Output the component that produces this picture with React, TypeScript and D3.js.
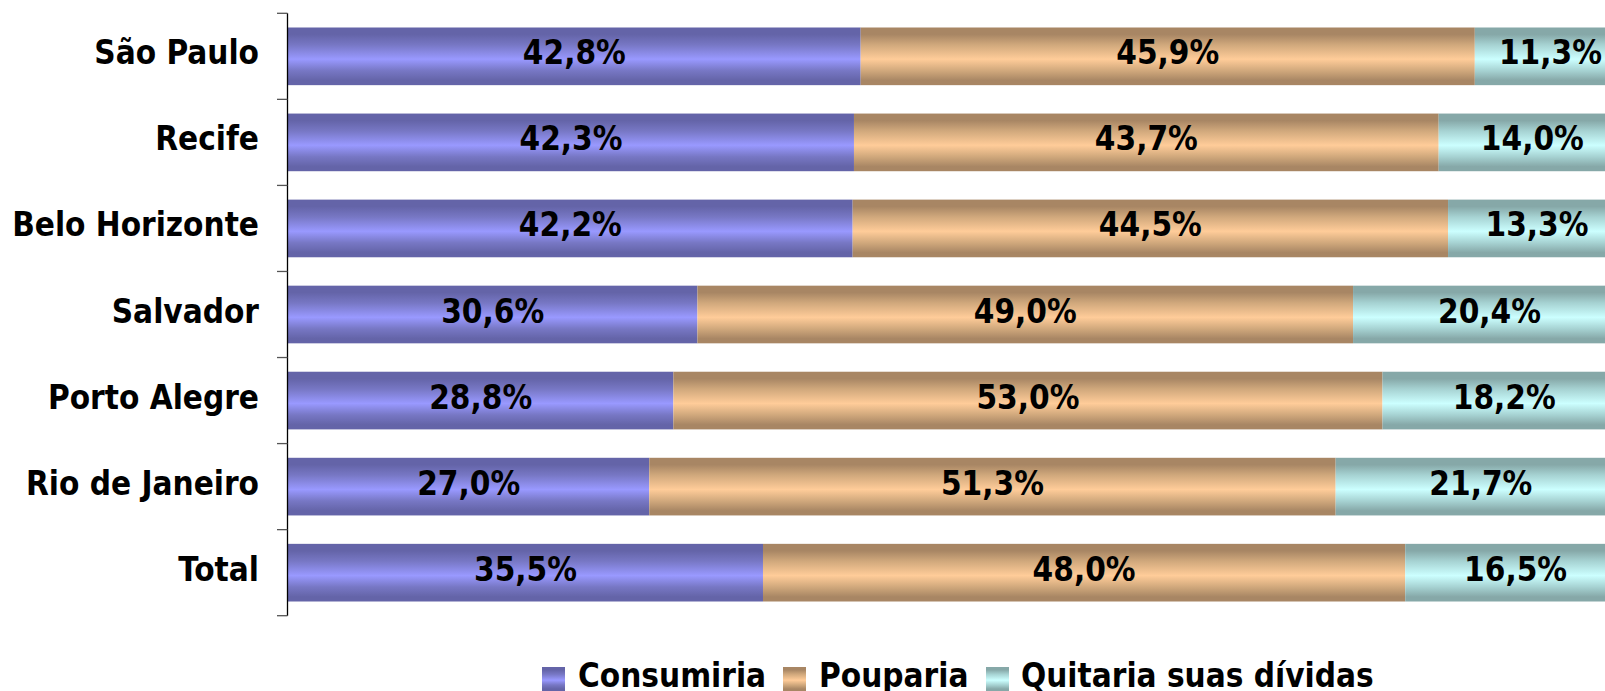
import React, { useEffect } from "react";
import * as d3 from "d3";

const categories = ["São Paulo", "Recife", "Belo Horizonte", "Salvador", "Porto Alegre", "Rio de Janeiro", "Total"];
const seriesNames = ["Consumiria", "Pouparia", "Quitaria suas dívidas"];
const consumiria = [42.8, 42.3, 42.2, 30.6, 28.8, 27.0, 35.5];
const pouparia = [45.9, 43.7, 44.5, 49.0, 53.0, 51.3, 48.0];
const quitaria = [11.3, 14.0, 13.3, 20.4, 18.2, 21.7, 16.5];
const seriesValues = [consumiria, pouparia, quitaria];

const gradients = [
  { id: "g0", dark: "#6464a8", mid: "#7777c4", light: "#9999ff" },
  { id: "g1", dark: "#a88664", mid: "#d0a87c", light: "#ffcc99" },
  { id: "g2", dark: "#86a8a8", mid: "#a6d2d2", light: "#ccffff" },
];

const W = 1605;
const H = 691;
const FONT = "'DejaVu Sans Condensed', 'DejaVu Sans', sans-serif";

export default function App() {
  useEffect(() => {
    document.body.style.margin = "0";
  }, []);

  const x = d3.scaleLinear().domain([0, 100]).range([288, 1626]);
  const y = d3.scaleBand<string>().domain(categories).range([13.3, 615.7]).paddingInner(0.33).paddingOuter(0.165);
  const yOuter = d3.scaleBand<string>().domain(categories).range([13.3, 615.7]);

  const segs: { cat: string; s: number; x0: number; x1: number; v: number }[] = [];
  categories.forEach((cat, i) => {
    let acc = 0;
    seriesValues.forEach((arr, s) => {
      const v = arr[i];
      segs.push({ cat, s, x0: acc, x1: acc + v, v });
      acc += v;
    });
  });

  const tickYs = categories.map((c) => yOuter(c) as number).concat([615.7]);
  const fmt = (v: number) => v.toFixed(1).replace(".", ",") + "%";

  const legendX = [542, 783, 986];
  const legendTextX = [578, 819, 1021];

  return (
    <svg width={W} height={H} style={{ display: "block", overflow: "hidden" }} fontFamily={FONT}>
      <defs>
        {gradients.map((g) => (
          <linearGradient key={g.id} id={g.id} x1="0" y1="0" x2="0" y2="1">
            <stop offset="0" stopColor={g.dark} />
            <stop offset="0.12" stopColor={g.dark} />
            <stop offset="0.3" stopColor={g.mid} />
            <stop offset="0.55" stopColor={g.light} />
            <stop offset="0.75" stopColor={g.mid} />
            <stop offset="0.92" stopColor={g.dark} />
            <stop offset="1" stopColor={g.dark} />
          </linearGradient>
        ))}
      </defs>
      <rect x={0} y={0} width={W} height={H} fill="#ffffff" />
      {segs.map((d, i) => (
        <rect
          key={i}
          x={x(d.x0)}
          y={y(d.cat)}
          width={x(d.x1) - x(d.x0)}
          height={y.bandwidth()}
          fill={`url(#g${d.s})`}
        />
      ))}
      {segs.map((d, i) => (
        <text
          key={"t" + i}
          x={(x(d.x0) + x(d.x1)) / 2}
          y={(y(d.cat) as number) + y.bandwidth() / 2 + 8}
          textAnchor="middle"
          fontSize={33}
          fontWeight="bold"
          fontStretch="condensed"
          fill="#000"
        >
          {fmt(d.v)}
        </text>
      ))}
      <line x1={287.5} x2={287.5} y1={13.3} y2={615.7} stroke="#000" strokeWidth={1.3} />
      {tickYs.map((t, i) => (
        <line key={"k" + i} x1={277} x2={287.5} y1={t} y2={t} stroke="#555" strokeWidth={1.3} />
      ))}
      {categories.map((c) => (
        <text
          key={c}
          x={259}
          y={(y(c) as number) + y.bandwidth() / 2 + 8}
          textAnchor="end"
          fontSize={33}
          fontWeight="bold"
          fontStretch="condensed"
          fill="#000"
        >
          {c}
        </text>
      ))}
      {seriesNames.map((n, i) => (
        <g key={n}>
          <rect x={legendX[i]} y={667} width={23} height={24} fill={`url(#g${i})`} />
          <text x={legendTextX[i]} y={687} fontSize={33} fontWeight="bold" fontStretch="condensed" fill="#000">
            {n}
          </text>
        </g>
      ))}
    </svg>
  );
}
